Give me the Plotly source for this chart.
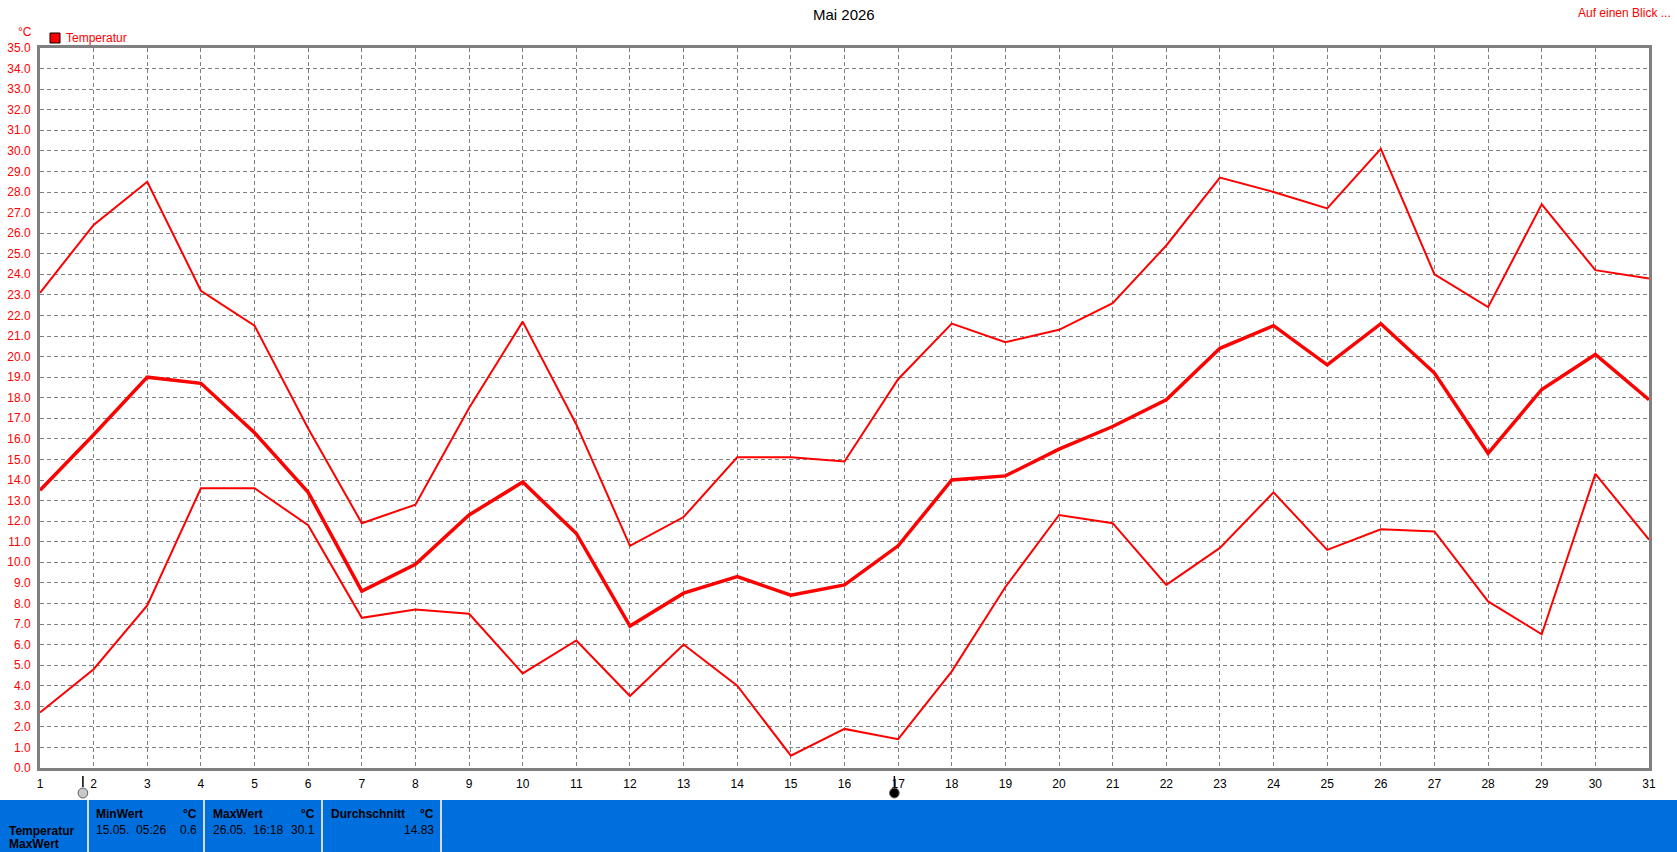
import plotly.graph_objects as go

# Tageswerte Mai 2026
tage = list(range(1, 32))
temp_max = [23.1, 26.4, 28.5, 23.2, 21.5, 16.5, 11.9, 12.8, 17.5, 21.7, 16.7,
            10.8, 12.2, 15.1, 15.1, 14.9, 18.9, 21.6, 20.7, 21.3, 22.6,
            25.4, 28.7, 28.0, 27.2, 30.1, 24.0, 22.4, 27.4, 24.2, 23.8]
temp_mittel = [13.5, 16.2, 19.0, 18.7, 16.3, 13.4, 8.6, 9.9, 12.3, 13.9, 11.4,
               6.9, 8.5, 9.3, 8.4, 8.9, 10.8, 14.0, 14.2, 15.5, 16.6,
               17.9, 20.4, 21.5, 19.6, 21.6, 19.2, 15.3, 18.4, 20.1, 17.9]
temp_min = [2.7, 4.8, 7.9, 13.6, 13.6, 11.8, 7.3, 7.7, 7.5, 4.6, 6.2,
            3.5, 6.0, 4.0, 0.6, 1.9, 1.4, 4.7, 8.8, 12.3, 11.9,
            8.9, 10.7, 13.4, 10.6, 11.6, 11.5, 8.1, 6.5, 14.3, 11.1]

y_ticks = [i * 1.0 for i in range(0, 36)]
y_labels = ["%.1f" % v for v in y_ticks]

statistik_kopf = ["MinWert", "MaxWert", "Durchschnitt"]
statistik_zeit = ["15.05.  05:26", "26.05.  16:18", ""]
statistik_wert = ["0.6", "30.1", "14.83"]

ROT = "#ff0000"
GRAU = "#808080"
BLAU = "#006fde"
FONT = "Liberation Sans, Arial, sans-serif"

W, H = 1677, 852
L, R, T, B = 40, 28, 48, 84
PW, PH = W - L - R, H - T - B


def px_x(p):
    return (p - L) / PW


def px_y(p):
    return (H - B - p) / PH


def text(t, x, y, anchor="left", size=12, color="black"):
    return dict(text=t, xref="paper", yref="paper", x=px_x(x), y=px_y(y),
                xanchor=anchor, yanchor="middle", showarrow=False,
                font=dict(size=size, color=color, family=FONT))


fig = go.Figure()
fig.add_trace(go.Scatter(x=tage, y=temp_max, mode="lines",
                         line=dict(color=ROT, width=2), name="Max"))
fig.add_trace(go.Scatter(x=tage, y=temp_mittel, mode="lines",
                         line=dict(color=ROT, width=3.5), name="Mittel"))
fig.add_trace(go.Scatter(x=tage, y=temp_min, mode="lines",
                         line=dict(color=ROT, width=2), name="Min"))

shapes = []
annotations = []

# Titel und Beschriftungen
annotations.append(text("Mai 2026", 844, 15, anchor="center", size=15))
annotations.append(text("Auf einen Blick ...", 1673, 13, anchor="right", color=ROT))
annotations.append(text("°C", 25, 32, anchor="center", color=ROT))
# Legende
shapes.append(dict(type="rect", xref="paper", yref="paper",
                   x0=px_x(50), x1=px_x(60), y0=px_y(43), y1=px_y(33),
                   fillcolor=ROT, line=dict(color="black", width=1)))
annotations.append(text("Temperatur", 64, 38, color=ROT))

# Schieberegler-Marken unter der x-Achse
for pos, farbe in [(1.8, "#c8c8c8"), (16.93, "black"), (31.47, "#c8c8c8")]:
    shapes.append(dict(type="line", xref="x", yref="paper", x0=pos, x1=pos,
                       y0=px_y(776), y1=px_y(787), line=dict(color="black", width=1.5)))
    shapes.append(dict(type="circle", xref="x", yref="paper",
                       x0=pos - 0.09, x1=pos + 0.09, y0=px_y(798), y1=px_y(788),
                       fillcolor=farbe, line=dict(color="#606060", width=1)))

# Statistik-Leiste unten
shapes.append(dict(type="rect", xref="paper", yref="paper",
                   x0=px_x(0), x1=px_x(W), y0=px_y(H), y1=px_y(800),
                   fillcolor=BLAU, line=dict(width=0), layer="above"))
for sx in [88, 204, 322, 441]:
    shapes.append(dict(type="line", xref="paper", yref="paper",
                       x0=px_x(sx), x1=px_x(sx), y0=px_y(H), y1=px_y(800),
                       line=dict(color="#d8d8d8", width=2), layer="above"))

annotations.append(text("<b>Temperatur</b>", 7, 831))
annotations.append(text("<b>MaxWert</b>", 7, 844))
spalten = [(94, 199), (211, 317), (329, 436)]
for (links, rechts), kopf, zeit, wert in zip(spalten, statistik_kopf,
                                             statistik_zeit, statistik_wert):
    annotations.append(text("<b>" + kopf + "</b>", links, 814))
    annotations.append(text("<b>°C</b>", rechts, 814, anchor="right"))
    if zeit:
        annotations.append(text(zeit, links, 830))
    annotations.append(text(wert, rechts, 830, anchor="right"))

fig.update_layout(
    width=W, height=H,
    margin=dict(l=L, r=R, t=T, b=B, pad=0, autoexpand=False),
    paper_bgcolor="white", plot_bgcolor="white",
    showlegend=False,
    shapes=shapes, annotations=annotations,
    font=dict(family=FONT, size=12),
)
fig.update_xaxes(range=[1, 31], tickvals=tage, ticktext=[str(t) for t in tage],
                 showgrid=True, gridcolor=GRAU, griddash="4px,3px", gridwidth=1,
                 showline=True, linecolor=GRAU, linewidth=3, mirror=True,
                 ticks="outside", ticklen=3, tickcolor="white", automargin=False,
                 tickfont=dict(size=12, color="black", family=FONT), zeroline=False)
fig.update_yaxes(range=[0, 35], tickvals=y_ticks, ticktext=y_labels,
                 showgrid=True, gridcolor=GRAU, griddash="4px,3px", gridwidth=1,
                 showline=True, linecolor=GRAU, linewidth=3, mirror=True,
                 ticks="outside", ticklen=4, tickcolor="white", automargin=False,
                 tickfont=dict(size=12, color=ROT, family=FONT), zeroline=False)

fig.write_html("out.html", config={"displayModeBar": False},
               post_script="document.body.style.margin='0';")
